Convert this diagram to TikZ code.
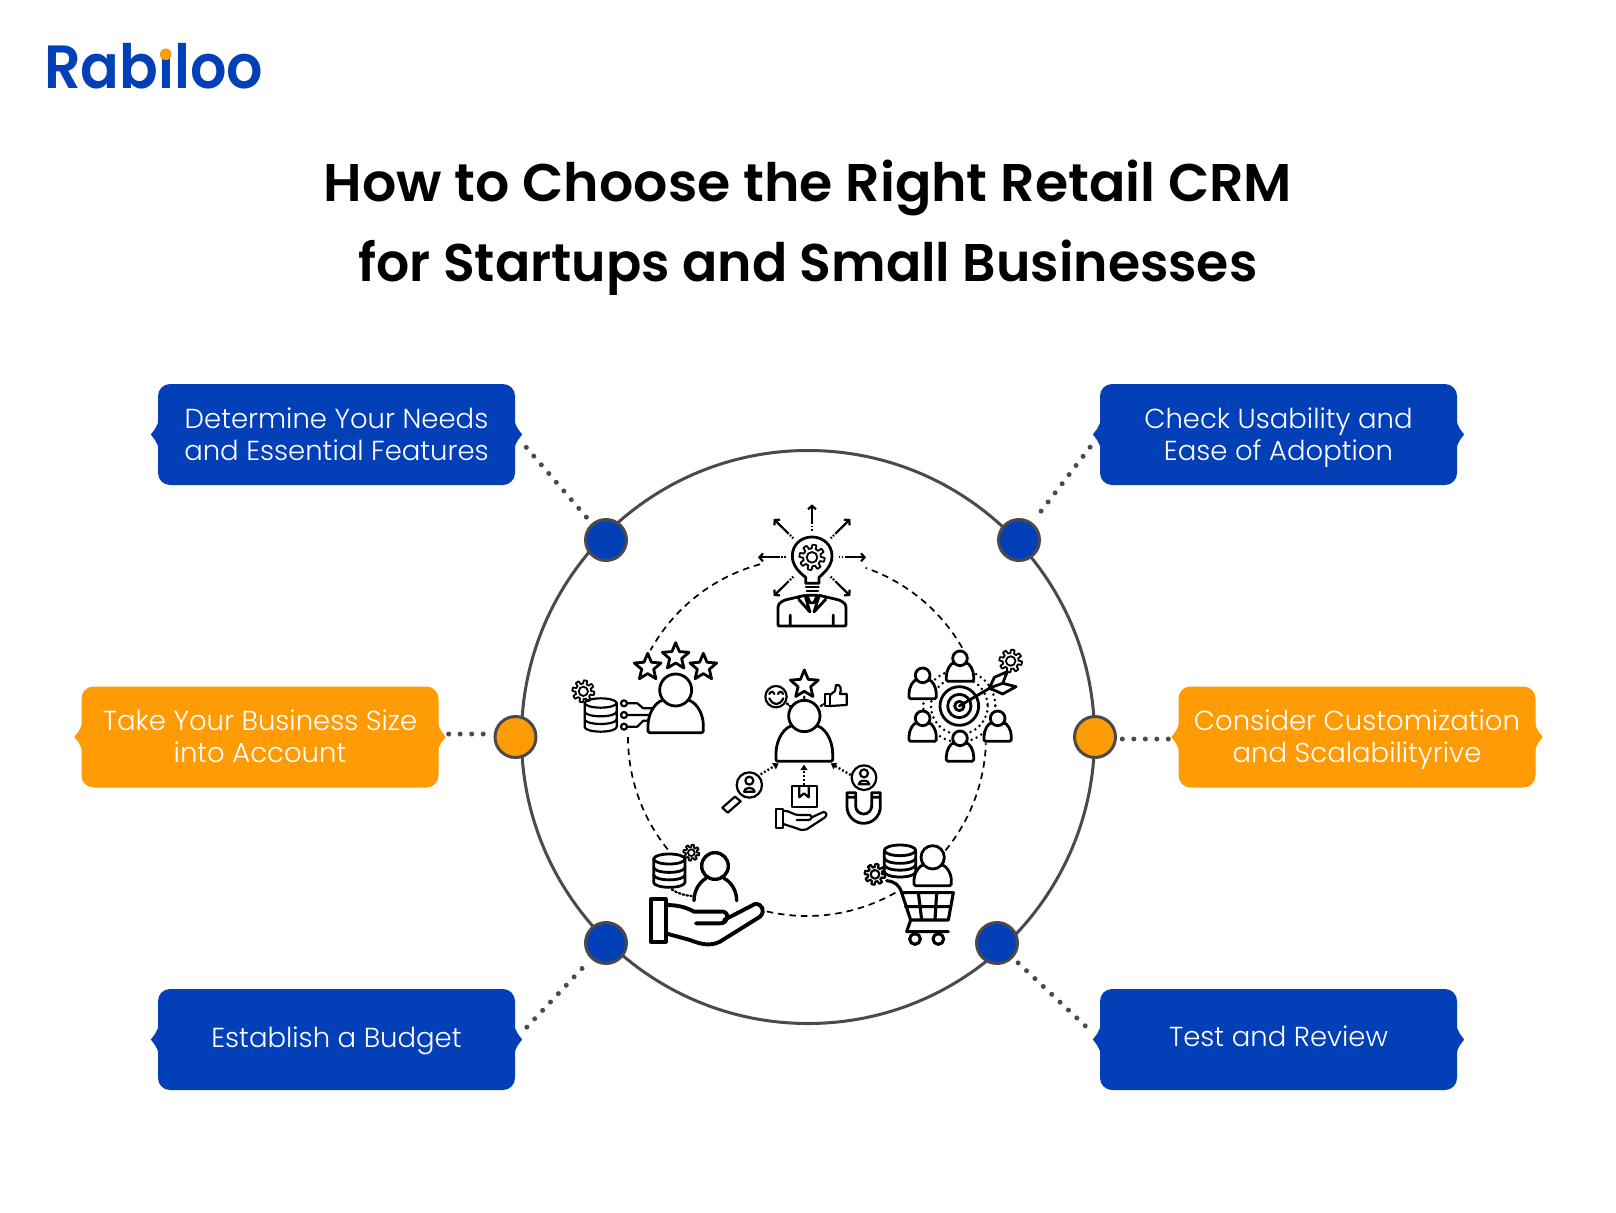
\documentclass[tikz,border=0pt]{standalone}
\usepackage{fontspec}
\usepackage{graphicx}
\usetikzlibrary{calc,arrows.meta}
\setmainfont{Poppins}
\newfontfamily\titlef{Poppins}[UprightFont=* SemiBold]
\newfontfamily\lightf{Poppins}[UprightFont=* Light]
\definecolor{rblue}{HTML}{0340B8}
\definecolor{rorange}{HTML}{FF9B05}
\definecolor{rgray}{HTML}{4A4A4A}
\newcommand{\ts}[1][0pt]{\setbox0\hbox{Ag}\rule{0pt}{\dimexpr\ht0+2\dimexpr#1\relax\relax}\vphantom{Ag}}
\tikzset{
  tagbox/.style={rectangle,rounded corners=12pt,minimum width=357pt,minimum height=101pt,inner sep=0pt,
     text=white,align=center,font=\lightf\fontsize{27.5}{32}\selectfont},
  blueb/.style={tagbox,fill=rblue},
  orangeb/.style={tagbox,fill=rorange},
  dotc/.style={circle,draw=rgray,line width=3pt,minimum size=41pt,inner sep=0pt},
  dotlink/.style={rgray,line width=5pt,line cap=round,dash pattern=on 0pt off 11.5pt},
  dasharc/.style={black,line width=1.7pt,dash pattern=on 6.5pt off 5pt},
  ic/.style={black,line width=2.8pt,line join=round,line cap=round},
  icthin/.style={black,line width=2.2pt,line join=round,line cap=round},
  icgear/.style={black,line width=1.8pt,line join=round,line cap=round},
  icthick/.style={black,line width=3.9pt,line join=round,line cap=round},
  dotarrow/.style={black,line width=2.3pt,dash pattern=on 1.8pt off 2.2pt,-{Triangle[length=5.5pt,width=7pt]}},
  burst/.style={black,line width=2.2pt,dash pattern=on 1.6pt off 1.6pt on 1.6pt off 1.6pt on 40pt off 0pt,-{Straight Barb[length=3.5pt,width=8pt]}},
  zoomone/.style={shift={(560,490)},x=0.33333pt,y=-0.33333pt},
  zoomtwo/.style={shift={(620,740)},x=0.33333pt,y=-0.33333pt}
}
\newcommand{\tagtips}[2]{%
  \fill[#2] ($(#1.east)+(-1,-16)$) .. controls ($(#1.east)+(0,-7)$) and ($(#1.east)+(5,-3)$) .. ($(#1.east)+(7,0)$)
     .. controls ($(#1.east)+(5,3)$) and ($(#1.east)+(0,7)$) .. ($(#1.east)+(-1,16)$) -- cycle;
  \fill[#2] ($(#1.west)+(1,-16)$) .. controls ($(#1.west)+(0,-7)$) and ($(#1.west)+(-5,-3)$) .. ($(#1.west)+(-7,0)$)
     .. controls ($(#1.west)+(-5,3)$) and ($(#1.west)+(0,7)$) .. ($(#1.west)+(1,16)$) -- cycle;
}
% cx, cy, R, style
\newcommand{\geardraw}[4]{%
  \draw[#4] plot[domain=0:360,samples=145,variable=\t] ({#1+#3*(0.85+0.15*max(-1,min(1,3*sin(8*\t))))*cos(\t)},{#2+#3*(0.85+0.15*max(-1,min(1,3*sin(8*\t))))*sin(\t)}) -- cycle;
  \draw[#4] (#1,#2) circle[radius=#3*0.42];
}
% cx, cy, R, style
\newcommand{\stardraw}[4]{%
  \draw[#4] plot[domain=0:9,samples=10,variable=\k] ({#1+#3*(1-0.55*mod(\k,2))*cos(-90+36*\k)},{#2+#3*(1-0.55*mod(\k,2))*sin(-90+36*\k)}) -- cycle;
}
% cx, head y, head r, bottom y, half width, style
\newcommand{\persondraw}[6]{%
  \pgfmathsetmacro\pH{#4-(#2+0.6*#3)}
  \draw[#6,fill=white,rounded corners=1.5pt] (#1-#5,#4) -- (#1-#5,#4-0.18*\pH) .. controls (#1-#5,#4-0.6*\pH) and (#1-0.7*#5,#4-\pH) .. (#1-0.3*#5,#4-\pH)
     -- (#1+0.3*#5,#4-\pH) .. controls (#1+0.7*#5,#4-\pH) and (#1+#5,#4-0.6*\pH) .. (#1+#5,#4-0.18*\pH) -- (#1+#5,#4) -- cycle;
  \draw[#6,fill=white] (#1,#2) circle[radius=#3];
}
% cx, top y, bottom y, rx, ry, style
\newcommand{\dbdraw}[6]{%
  \draw[#6,fill=white] (#1-#4,#2) -- (#1-#4,#3) arc[start angle=180,end angle=0,x radius=#4,y radius=#5] -- (#1+#4,#2);
  \draw[#6] (#1,#2) circle[x radius=#4,y radius=#5];
  \draw[#6] (#1-#4,#2+0.36*#3-0.36*#2) arc[start angle=180,end angle=0,x radius=#4,y radius=#5];
  \draw[#6] (#1-#4,#2+0.68*#3-0.68*#2) arc[start angle=180,end angle=0,x radius=#4,y radius=#5];
}
\begin{document}
\begin{tikzpicture}[x=1pt,y=-1pt]
\useasboundingbox (0,0) rectangle (1616,1212);
\fill[white] (0,0) rectangle (1616,1212);

% logo
\node[anchor=base west,inner sep=0pt,text=rblue,font=\titlef\fontsize{61}{61}\selectfont] (logo) at (44,89) {\scalebox{0.937}[1]{Rabiloo}};
\fill[white] (156,30) rectangle (175,50);
\fill[rorange] (165.7,54.3) circle[radius=5.8];

% title
\node[font=\titlef\fontsize{53}{80}\selectfont,align=center,inner sep=0pt] (title) at (808,228)
  {\scalebox{1.014}[1]{How to Choose the Right Retail CRM}\\\scalebox{0.983}[1]{for Startups and Small Businesses}};

% big circle
\node[circle,draw=rgray,line width=3pt,minimum size=573pt,inner sep=0pt] (big) at (808,737) {};

% dashed ring arcs
\foreach \sa/\ea in {254.8/209,180/141,103/59.6,39.3/2,-29.9/-70.9}
  \draw[dasharc] ({807+179*cos(\sa)},{737+179*sin(\sa)}) arc[start angle=\sa,end angle=\ea,radius=179];

% boxes
\node[blueb] (b1) at (336.5,434.5) {\ts[4.6pt]Determine Your Needs\\\ts and Essential Features};
\node[blueb] (b2) at (1278.5,434.5) {\ts[4.6pt]Check Usability and\\\ts Ease of Adoption};
\node[orangeb] (b3) at (260,737) {\ts[3.6pt]Take Your Business Size\\\ts into Account};
\node[orangeb] (b4) at (1357,737) {\ts[3.6pt]Consider Customization\\\ts and Scalabilityrive};
\node[blueb] (b5) at (336.5,1039.5) {\ts[2.4pt]Establish a Budget};
\node[blueb] (b6) at (1278.5,1039.5) {\ts Test and Review};
\tagtips{b1}{rblue}\tagtips{b2}{rblue}\tagtips{b3}{rorange}\tagtips{b4}{rorange}\tagtips{b5}{rblue}\tagtips{b6}{rblue}

% small circles
\node[dotc,fill=rblue] (c1) at (606,540) {};
\node[dotc,fill=rblue] (c2) at (1019,540) {};
\node[dotc,fill=rorange] (c3) at (515.5,737) {};
\node[dotc,fill=rorange] (c4) at (1095,737) {};
\node[dotc,fill=rblue] (c5) at (606,943) {};
\node[dotc,fill=rblue] (c6) at (997,943) {};

% connectors
\draw[dotlink,shorten <=17pt,shorten >=4pt] (b1.east) -- (c1);
\draw[dotlink,shorten <=16pt,shorten >=4pt] (b2.west) -- (c2);
\draw[dotlink,shorten <=10pt,shorten >=1pt] ([yshift=3pt]b3.east) -- ([yshift=3pt]c3.west);
\draw[dotlink,shorten <=10pt,shorten >=5pt] ([yshift=-2pt]b4.west) -- ([yshift=-2pt]c4.east);
\draw[dotlink,shorten <=17pt,shorten >=4pt] (b5.east) -- (c5);
\draw[dotlink,shorten <=20pt,shorten >=4pt] (b6.west) -- (c6);

% --- icons, upper part
\begin{scope}[zoomone]
  % bulb person
  \draw[ic] (737,280) -- (737,262) .. controls (715,245) and (697,225) .. (697,198) .. controls (697,165) and (722,141) .. (756,141)
     .. controls (790,141) and (816,165) .. (816,198) .. controls (816,225) and (797,245) .. (777,262) -- (777,280) -- cycle;
  \geardraw{756}{202}{38}{icgear}
  \draw[icthin] (738,291) -- (776,291) (740,302) -- (774,302);
  \draw[burst] (756,122) -- (756,43);
  \draw[burst] (700,145) -- (641,87);
  \draw[burst] (812,145) -- (871,87);
  \draw[burst] (678,202) -- (594,202);
  \draw[burst] (836,202) -- (918,202);
  \draw[burst] (700,260) -- (641,318);
  \draw[burst] (812,260) -- (871,318);
  \draw[ic] (656,408) -- (856,408) (654,404) -- (654,352) .. controls (654,340) and (665,335) .. (675,330) -- (735,316)
     (858,404) -- (858,352) .. controls (858,340) and (847,335) .. (837,330) -- (778,316)
     (735,316) -- (750,366) -- (716,328) (778,316) -- (762,366) -- (797,328)
     (741,316) -- (772,316) -- (762,338) -- (750,338) -- cycle
     (691,375) -- (691,408) (820,375) -- (820,408);
  \draw[ic] (654,404) -- (656,408) (858,404) -- (856,408);

  % stars person
  \stardraw{263}{532}{42}{ic}
  \stardraw{347}{500}{42}{ic}
  \stardraw{430}{532}{42}{ic}
  \geardraw{70}{604}{33}{icgear}
  \dbdraw{122}{639}{711}{48}{14}{icthin}
  \draw[icthin] (192,640) circle[radius=9] (192,675) circle[radius=9] (192,710) circle[radius=9];
  \draw[icthin] (201,640) -- (232,640) -- (250,655) -- (290,655) (201,675) -- (270,675) (201,710) -- (232,710) -- (250,692) -- (270,692);
  \persondraw{347}{600}{48}{728}{83}{ic}

  % centre person top part
  \stardraw{733}{584}{44}{ic}
  \draw[icthin] (648,620) circle[radius=32];
  \draw[icthin] (628,612) .. controls (632,603) and (640,603) .. (643,612) (654,612) .. controls (658,603) and (666,603) .. (669,612)
    (628,625) .. controls (640,648) and (658,648) .. (670,625);
  \draw[icthin] (796,612) rectangle (810,648);
  \draw[icthin] (810,615) -- (825,603) -- (828,585) .. controls (842,583) and (845,595) .. (840,612) -- (860,612) -- (860,645) -- (810,648);
  \draw[icthin,dash pattern=on 1.8pt off 1.8pt] (680,640) -- (692,650) (782,648) -- (796,640) (733,620) -- (733,630);
  \persondraw{733}{678}{47}{814}{85}{ic}

  % target ring
  \draw[ic,dash pattern=on 0pt off 5.5pt] (1198,648) circle[radius=85];
  \draw[ic,dash pattern=on 0pt off 5.5pt] (1198,648) circle[radius=108];
  \persondraw{1200}{505}{22}{574}{41}{ic}
  \persondraw{1088}{556}{22}{626}{41}{ic}
  \persondraw{1088}{685}{22}{754}{41}{ic}
  \persondraw{1313}{685}{22}{754}{41}{ic}
  \persondraw{1200}{745}{22}{814}{41}{ic}
  \draw[ic] (1198,648) circle[radius=58] (1198,648) circle[radius=35] (1198,648) circle[radius=14];
  \draw[ic] (1198,648) -- (1300,588);
  \draw[ic,fill=white] (1288,594) -- (1303,562) -- (1342,545) -- (1328,580) -- (1368,590) -- (1328,612) -- cycle;
  \draw[ic] (1288,594) -- (1328,580);
  \geardraw{1352}{513}{34}{icgear}
\end{scope}

% --- icons, lower part
\begin{scope}[zoomtwo]
  % magnifier
  \draw[icthin] (388,135) circle[radius=38];
  \draw[icthin] (388,122) circle[radius=12];
  \draw[icthin] (372,155) .. controls (372,140) and (404,140) .. (404,155) -- cycle;
  \draw[icthin] (345,170) -- (362,184) -- (323,218) -- (307,203) -- cycle;
  \draw[dotarrow] (422,103) -- (476,70);
  % box on hand
  \draw[icthin] (516,138) rectangle (590,200);
  \draw[icthin] (538,138) -- (538,172) -- (552,160) -- (566,172) -- (566,138);
  \draw[dotarrow] (552,134) -- (552,74);
  \draw[icthin] (467,207) rectangle (490,265);
  \draw[icthin] (490,212) .. controls (510,212) and (520,225) .. (535,225) -- (570,225) .. controls (578,228) and (575,240) .. (565,240) -- (530,240)
     (575,232) -- (610,216) .. controls (620,216) and (622,225) .. (615,232) -- (560,268) .. controls (550,272) and (540,270) .. (530,265) -- (490,252);
  % magnet
  \draw[icthin] (732,113) circle[radius=37];
  \draw[icthin] (732,100) circle[radius=12];
  \draw[icthin] (716,133) .. controls (716,118) and (748,118) .. (748,133) -- cycle;
  \draw[dotarrow] (692,105) -- (632,70);
  \draw[ic] (681,158) -- (707,158) (755,158) -- (781,158) (681,172) -- (707,172) (755,172) -- (781,172)
     (681,158) -- (681,200) arc[start angle=180,end angle=0,radius=50] -- (781,158)
     (707,158) -- (707,198) arc[start angle=180,end angle=0,radius=24] -- (755,158);

  % data hand
  \dbdraw{148}{357}{427}{47}{15}{ic}
  \geardraw{214}{338}{24}{icgear}
  \draw[icthin,dash pattern=on 1.8pt off 2.2pt] (155,448) .. controls (175,462) and (195,466) .. (215,468);
  \draw[ic,line width=3.4pt] (285,378) circle[radius=40];
  \draw[ic,line width=3.4pt] (222,482) .. controls (222,450) and (240,425) .. (258,415) (350,482) .. controls (350,450) and (332,425) .. (312,415);
  \draw[icthick] (92,478) rectangle (137,605);
  \draw[icthick] (137,495) .. controls (170,495) and (195,500) .. (222,515) -- (310,515) .. controls (330,520) and (325,550) .. (300,550) -- (228,550)
     (312,540) -- (405,492) .. controls (425,490) and (438,512) .. (420,530) -- (300,605) .. controls (270,620) and (240,612) .. (210,600) -- (137,580);

  % cart
  \dbdraw{840}{331}{395}{47}{16}{ic}
  \geardraw{765}{403}{31}{icthin}
  \persondraw{938}{352}{35}{437}{56}{ic}
  \draw[ic,line width=3.1pt] (800,422) .. controls (825,425) and (838,435) .. (845,458) -- (1000,458) -- (985,540) -- (872,540) -- (845,458)
     (856,500) -- (992,500) (895,458) -- (905,540) (950,458) -- (945,540)
     (872,540) -- (860,575) -- (985,575);
  \draw[ic,line width=3.1pt] (885,597) circle[radius=16] (955,597) circle[radius=16];
\end{scope}
\end{tikzpicture}
\end{document}
